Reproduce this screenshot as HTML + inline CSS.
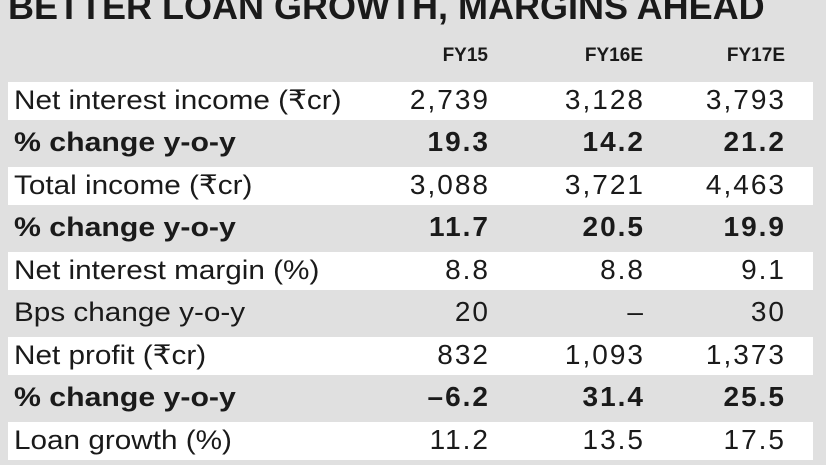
<!DOCTYPE html>
<html><head><meta charset="utf-8"><style>
body{margin:0;width:826px;height:465px;overflow:hidden;background:#e0e0e0;font-family:"Liberation Sans",sans-serif;color:#1a1a1a;position:relative}
.t{position:absolute;left:8px;top:-14px;font-size:36px;font-weight:bold;white-space:nowrap;transform:scaleX(1.0);transform-origin:left}
.h{position:absolute;top:45px;font-size:19px;font-weight:bold;text-align:right;width:120px}
.r{position:absolute;left:8px;width:805px;height:38px}
.w{background:#fff}
.l{position:absolute;left:6px;top:3px;font-size:27px;white-space:nowrap;transform:scaleX(1.1);transform-origin:left;}
.b .l{transform:scaleX(1.12)}
.v{position:absolute;top:2px;font-size:28px;letter-spacing:2px;text-align:right;width:150px;white-space:nowrap}
.b{font-weight:bold}
</style></head><body>
<div class="t">BETTER LOAN GROWTH, MARGINS AHEAD</div>
<div class="h" style="left:368px">FY15</div>
<div class="h" style="left:523px">FY16E</div>
<div class="h" style="left:665px">FY17E</div>

<div class="r w" style="top:82px"><span class="l">Net interest income (₹cr)</span><span class="v" style="left:332px">2,739</span><span class="v" style="left:487px">3,128</span><span class="v" style="left:628px">3,793</span></div>
<div class="r b" style="top:124px"><span class="l">% change y-o-y</span><span class="v" style="left:332px">19.3</span><span class="v" style="left:487px">14.2</span><span class="v" style="left:628px">21.2</span></div>
<div class="r w" style="top:167px"><span class="l">Total income (₹cr)</span><span class="v" style="left:332px">3,088</span><span class="v" style="left:487px">3,721</span><span class="v" style="left:628px">4,463</span></div>
<div class="r b" style="top:209px"><span class="l">% change y-o-y</span><span class="v" style="left:332px">11.7</span><span class="v" style="left:487px">20.5</span><span class="v" style="left:628px">19.9</span></div>
<div class="r w" style="top:252px"><span class="l">Net interest margin (%)</span><span class="v" style="left:332px">8.8</span><span class="v" style="left:487px">8.8</span><span class="v" style="left:628px">9.1</span></div>
<div class="r" style="top:294px"><span class="l">Bps change y-o-y</span><span class="v" style="left:332px">20</span><span class="v" style="left:487px">–</span><span class="v" style="left:628px">30</span></div>
<div class="r w" style="top:337px"><span class="l">Net profit (₹cr)</span><span class="v" style="left:332px">832</span><span class="v" style="left:487px">1,093</span><span class="v" style="left:628px">1,373</span></div>
<div class="r b" style="top:379px"><span class="l">% change y-o-y</span><span class="v" style="left:332px">–6.2</span><span class="v" style="left:487px">31.4</span><span class="v" style="left:628px">25.5</span></div>
<div class="r w" style="top:422px"><span class="l">Loan growth (%)</span><span class="v" style="left:332px">11.2</span><span class="v" style="left:487px">13.5</span><span class="v" style="left:628px">17.5</span></div>
</body></html>
